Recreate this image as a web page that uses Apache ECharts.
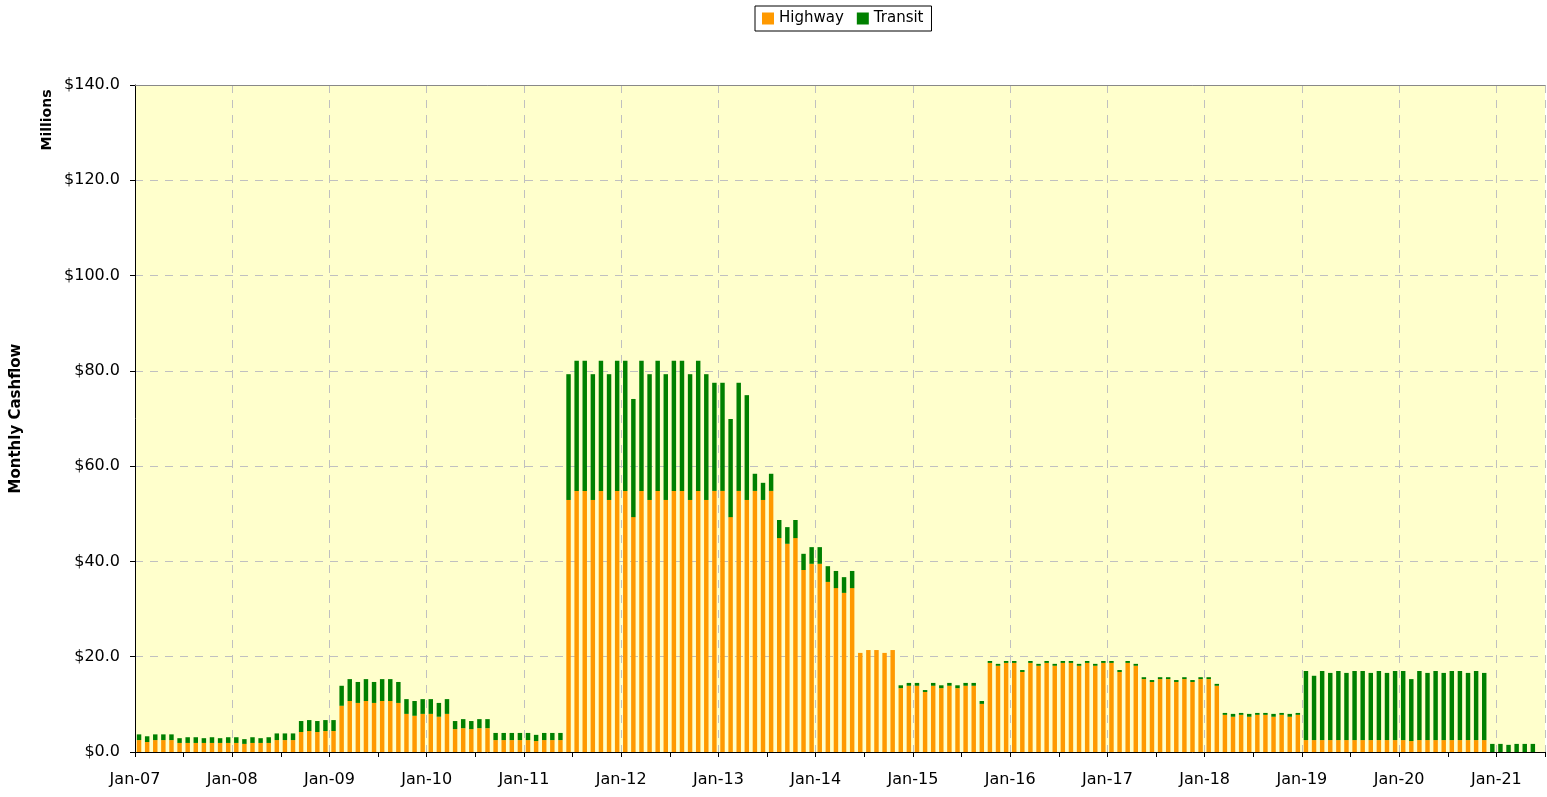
<!DOCTYPE html>
<html>
<head>
<meta charset="utf-8">
<title>Monthly Cashflow</title>
<script src="https://cdn.jsdelivr.net/npm/echarts@6/dist/echarts.min.js"></script>
<style>
  html, body { margin: 0; padding: 0; background: #ffffff; }
  #chart { width: 1547px; height: 797px; }
</style>
</head>
<body>
<div id="chart"></div>
<script>
// Month names and first/last year of the series (Jan-07 .. Jun-21)
const monthNames = ['Jan','Feb','Mar','Apr','May','Jun','Jul','Aug','Sep','Oct','Nov','Dec'];
const firstYear = 2007;
const monthCount = 174;

// Labels shown under the x axis, one per January
const yearTicks = ['Jan-07','Jan-08','Jan-09','Jan-10','Jan-11','Jan-12','Jan-13',
                   'Jan-14','Jan-15','Jan-16','Jan-17','Jan-18','Jan-19','Jan-20','Jan-21'];

// Highway cashflow, $ millions per month (one row per year)
const highway = [
  2.5, 2.1, 2.5, 2.5, 2.5, 1.9, 1.9, 1.9, 1.9, 1.9, 1.9, 1.9,          // 2007
  1.9, 1.7, 1.9, 1.9, 1.9, 2.5, 2.5, 2.5, 4.2, 4.4, 4.2, 4.4,          // 2008
  4.4, 9.7, 10.7, 10.3, 10.7, 10.3, 10.7, 10.7, 10.3, 8.0, 7.6, 8.0,   // 2009
  8.0, 7.4, 8.0, 4.8, 5.0, 4.8, 5.0, 5.0, 2.5, 2.5, 2.5, 2.5,          // 2010
  2.5, 2.3, 2.5, 2.5, 2.5, 52.9, 54.8, 54.8, 52.9, 54.8, 52.9, 54.8,   // 2011
  54.8, 49.3, 54.8, 52.9, 54.8, 52.9, 54.8, 54.8, 52.9, 54.8, 52.9, 54.8, // 2012
  54.8, 49.3, 54.8, 52.9, 54.8, 52.9, 54.8, 44.9, 43.7, 44.9, 38.2, 39.5, // 2013
  39.5, 35.7, 34.4, 33.4, 34.4, 20.8, 21.4, 21.4, 20.8, 21.4, 13.4, 13.9, // 2014
  13.9, 12.6, 13.9, 13.4, 13.9, 13.4, 13.9, 13.9, 10.1, 18.7, 18.1, 18.7, // 2015
  18.7, 16.8, 18.7, 18.1, 18.7, 18.1, 18.7, 18.7, 18.1, 18.7, 18.1, 18.7, // 2016
  18.7, 16.8, 18.7, 18.1, 15.3, 14.7, 15.3, 15.3, 14.7, 15.3, 14.7, 15.3, // 2017
  15.3, 13.9, 7.8, 7.4, 7.8, 7.4, 7.8, 7.8, 7.4, 7.8, 7.4, 7.8,        // 2018
  2.5, 2.5, 2.5, 2.5, 2.5, 2.5, 2.5, 2.5, 2.5, 2.5, 2.5, 2.5,          // 2019
  2.5, 2.3, 2.5, 2.5, 2.5, 2.5, 2.5, 2.5, 2.5, 2.5, 2.5, 0,            // 2020
  0, 0, 0, 0, 0, 0                                                     // 2021
];

// Transit cashflow, $ millions per month (one row per year)
const transit = [
  1.2, 1.2, 1.2, 1.2, 1.2, 1.0, 1.2, 1.2, 1.0, 1.2, 1.0, 1.2,          // 2007
  1.2, 1.0, 1.2, 1.0, 1.2, 1.4, 1.4, 1.4, 2.3, 2.3, 2.3, 2.3,          // 2008
  2.3, 4.2, 4.6, 4.4, 4.6, 4.4, 4.6, 4.6, 4.4, 3.1, 3.1, 3.1,          // 2009
  3.1, 2.9, 3.1, 1.7, 1.9, 1.7, 1.9, 1.9, 1.5, 1.5, 1.5, 1.5,          // 2010
  1.5, 1.3, 1.5, 1.5, 1.5, 26.4, 27.3, 27.3, 26.4, 27.3, 26.4, 27.3,   // 2011
  27.3, 24.8, 27.3, 26.4, 27.3, 26.4, 27.3, 27.3, 26.4, 27.3, 26.4, 22.7, // 2012
  22.7, 20.6, 22.7, 22.0, 3.6, 3.6, 3.6, 3.8, 3.5, 3.8, 3.4, 3.5,      // 2013
  3.5, 3.3, 3.6, 3.3, 3.6, 0, 0, 0, 0, 0, 0.6, 0.6,                    // 2014
  0.6, 0.4, 0.6, 0.6, 0.6, 0.6, 0.6, 0.6, 0.6, 0.4, 0.4, 0.4,          // 2015
  0.4, 0.4, 0.4, 0.4, 0.4, 0.4, 0.4, 0.4, 0.4, 0.4, 0.4, 0.4,          // 2016
  0.4, 0.4, 0.4, 0.4, 0.4, 0.4, 0.4, 0.4, 0.4, 0.4, 0.4, 0.4,          // 2017
  0.4, 0.4, 0.4, 0.6, 0.4, 0.6, 0.4, 0.4, 0.6, 0.4, 0.6, 0.4,          // 2018
  14.5, 13.5, 14.5, 14.1, 14.5, 14.1, 14.5, 14.5, 14.1, 14.5, 14.1, 14.5, // 2019
  14.5, 13.0, 14.5, 14.1, 14.5, 14.1, 14.5, 14.5, 14.1, 14.5, 14.1, 1.7,  // 2020
  1.7, 1.5, 1.7, 1.7, 1.7, 0                                           // 2021
];

// Category labels, e.g. "Mar-09"
const categories = [];
for (let i = 0; i < monthCount; i++) {
  const y = firstYear + Math.floor(i / 12);
  categories.push(monthNames[i % 12] + '-' + String(y % 100).padStart(2, '0'));
}

const FONT = '"DejaVu Sans", Verdana, sans-serif';
const gridDash = { color: '#c0c0c0', type: [8, 7], width: 1 };

const chart = echarts.init(document.getElementById('chart'), null, { renderer: 'canvas' });

chart.setOption({
  animation: false,
  backgroundColor: '#ffffff',
  textStyle: { fontFamily: FONT, color: '#000' },
  legend: {
    data: ['Highway', 'Transit'],
    left: 755,
    top: 6,
    padding: [5, 8, 5, 7],
    itemGap: 13,
    itemWidth: 12,
    itemHeight: 12,
    icon: 'rect',
    backgroundColor: '#ffffff',
    borderColor: '#000000',
    borderWidth: 1,
    borderRadius: 0,
    textStyle: { fontFamily: FONT, fontSize: 15, color: '#000', padding: [1, 0, 0, 0] }
  },
  grid: {
    left: 135,
    right: 2,
    top: 85,
    bottom: 45,
    show: true,
    backgroundColor: '#ffffcc',
    borderWidth: 0
  },
  xAxis: [
    {
      type: 'category',
      data: categories,
      boundaryGap: true,
      position: 'bottom',
      axisLine: { show: true, lineStyle: { color: '#000', width: 1 } },
      axisTick: { show: true, interval: 5, length: 5, lineStyle: { color: '#000' } },
      axisLabel: { show: false },
      splitLine: { show: true, interval: 11, lineStyle: gridDash }
    },
    {
      type: 'value',
      min: 0,
      max: monthCount,
      interval: 12,
      position: 'bottom',
      offset: 0,
      axisLine: { show: false },
      axisTick: { show: false },
      splitLine: { show: false },
      axisLabel: {
        margin: 20,
        fontFamily: FONT,
        fontSize: 16,
        color: '#000',
        showMaxLabel: false,
        formatter: v => (v % 12 === 0 ? (yearTicks[v / 12] || '') : '')
      }
    },
    {
      // plain grey frame line along the top of the plot area
      type: 'value',
      min: 0,
      max: monthCount,
      position: 'top',
      axisLine: { show: true, lineStyle: { color: '#888888', width: 1 } },
      axisTick: { show: false },
      axisLabel: { show: false },
      splitLine: { show: false }
    }
  ],
  yAxis: {
    type: 'value',
    min: 0,
    max: 140,
    interval: 20,
    name: 'Monthly Cashflow',
    nameLocation: 'middle',
    nameGap: 111,
    nameTextStyle: { fontFamily: FONT, fontWeight: 'bold', fontSize: 15, color: '#000' },
    axisLine: { show: true, lineStyle: { color: '#000', width: 1 } },
    axisTick: { show: true, length: 5, lineStyle: { color: '#000' } },
    axisLabel: {
      margin: 15,
      fontFamily: FONT,
      fontSize: 16,
      color: '#000',
      formatter: v => '$' + v.toFixed(1)
    },
    splitLine: { show: true, lineStyle: gridDash }
  },
  graphic: [
    {
      type: 'text',
      x: 47,
      y: 120,
      rotation: Math.PI / 2,
      style: {
        text: 'Millions',
        font: 'bold 14px ' + FONT,
        fill: '#000',
        textAlign: 'center',
        textVerticalAlign: 'middle'
      }
    }
  ],
  series: [
    {
      name: 'Highway',
      type: 'bar',
      stack: 'cash',
      xAxisIndex: 0,
      barWidth: '55%',
      itemStyle: { color: '#ff9900' },
      data: highway
    },
    {
      name: 'Transit',
      type: 'bar',
      stack: 'cash',
      xAxisIndex: 0,
      barWidth: '55%',
      itemStyle: { color: '#008000' },
      data: transit
    }
  ]
});
</script>
</body>
</html>
